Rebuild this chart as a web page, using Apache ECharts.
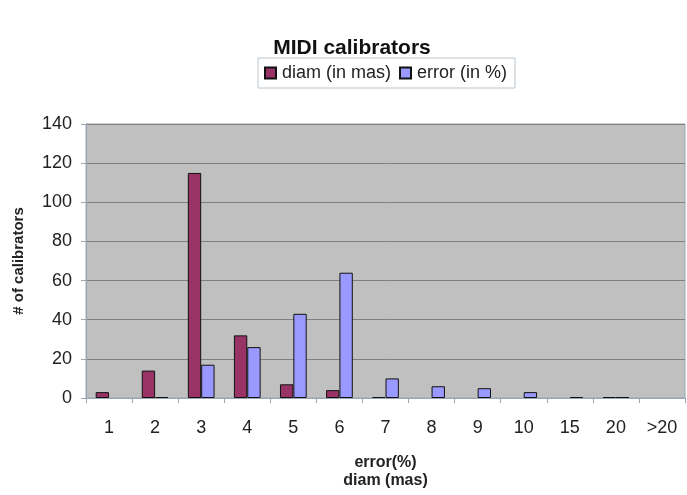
<!DOCTYPE html>
<html>
<head>
<meta charset="utf-8">
<script src="https://cdn.jsdelivr.net/npm/echarts@6/dist/echarts.min.js"></script>
<style>
  html, body { margin: 0; padding: 0; background: #fff; }
  #chart { width: 687px; height: 495px; }
</style>
</head>
<body>
<div id="chart"></div>
<script>
// categories on the x axis
var categories = ["1", "2", "3", "4", "5", "6", "7", "8", "9", "10", "15", "20", ">20"];
// diameter counts (in mas), "-" = no bar drawn
var diamValues = [3, 14, 115, 32, 7, 4, 0.5, "-", "-", "-", "-", 0.5, "-"];
// error counts (in %)
var errorValues = ["-", 0.5, 17, 26, 43, 64, 10, 6, 5, 3, 0.5, 0.5, "-"];

var chart = echarts.init(document.getElementById("chart"));
var font = "Liberation Sans, Arial, sans-serif";

chart.setOption({
  animation: false,
  textStyle: { fontFamily: font },
  title: {
    text: "MIDI calibrators",
    left: 347,
    textAlign: "center",
    top: 33,
    textStyle: { fontSize: 21, fontWeight: "bold", color: "#111", fontFamily: font }
  },
  legend: {
    data: ["diam (in mas)", "error (in %)"],
    left: 258,
    top: 58,
    padding: [6, 8, 6, 6],
    borderColor: "#b8c4cc",
    borderWidth: 1,
    itemWidth: 11,
    itemHeight: 11,
    itemGap: 8,
    icon: "rect",
    textStyle: { fontSize: 18, color: "#222", fontFamily: font, padding: [0, 0, 0, 1] }
  },
  grid: {
    left: 86,
    right: 2,
    top: 124,
    bottom: 88,
    show: true,
    backgroundColor: "#c0c0c0",
    borderColor: "#9aa6b4",
    borderWidth: 1
  },
  xAxis: {
    type: "category",
    data: categories,
    name: "error(%)\ndiam (mas)",
    nameLocation: "middle",
    nameGap: 56,
    nameTextStyle: { fontSize: 16, fontWeight: "bold", color: "#222", lineHeight: 18 },
    axisLine: { lineStyle: { color: "#9aa6b4", width: 1 } },
    axisTick: { show: true, inside: false, length: 5, lineStyle: { color: "#9aa6b4" } },
    axisLabel: { fontSize: 18, color: "#222", margin: 21 }
  },
  yAxis: {
    type: "value",
    min: 0,
    max: 140,
    interval: 20,
    name: "# of calibrators",
    nameLocation: "middle",
    nameGap: 60,
    nameTextStyle: { fontSize: 15, fontWeight: "bold", color: "#222" },
    axisLine: { show: true, lineStyle: { color: "#9aa6b4" } },
    axisTick: { show: true, length: 5, lineStyle: { color: "#9aa6b4" } },
    axisLabel: { fontSize: 18, color: "#222", margin: 14 },
    splitLine: { lineStyle: { color: "#808080", width: 1 } }
  },
  series: [
    {
      name: "diam (in mas)",
      type: "bar",
      data: diamValues,
      barGap: "0%",
      barCategoryGap: "42%",
      itemStyle: { color: "#993366", borderColor: "#111", borderWidth: 1 }
    },
    {
      name: "error (in %)",
      type: "bar",
      data: errorValues,
      itemStyle: { color: "#9999ff", borderColor: "#111", borderWidth: 1 }
    }
  ]
});
</script>
</body>
</html>
